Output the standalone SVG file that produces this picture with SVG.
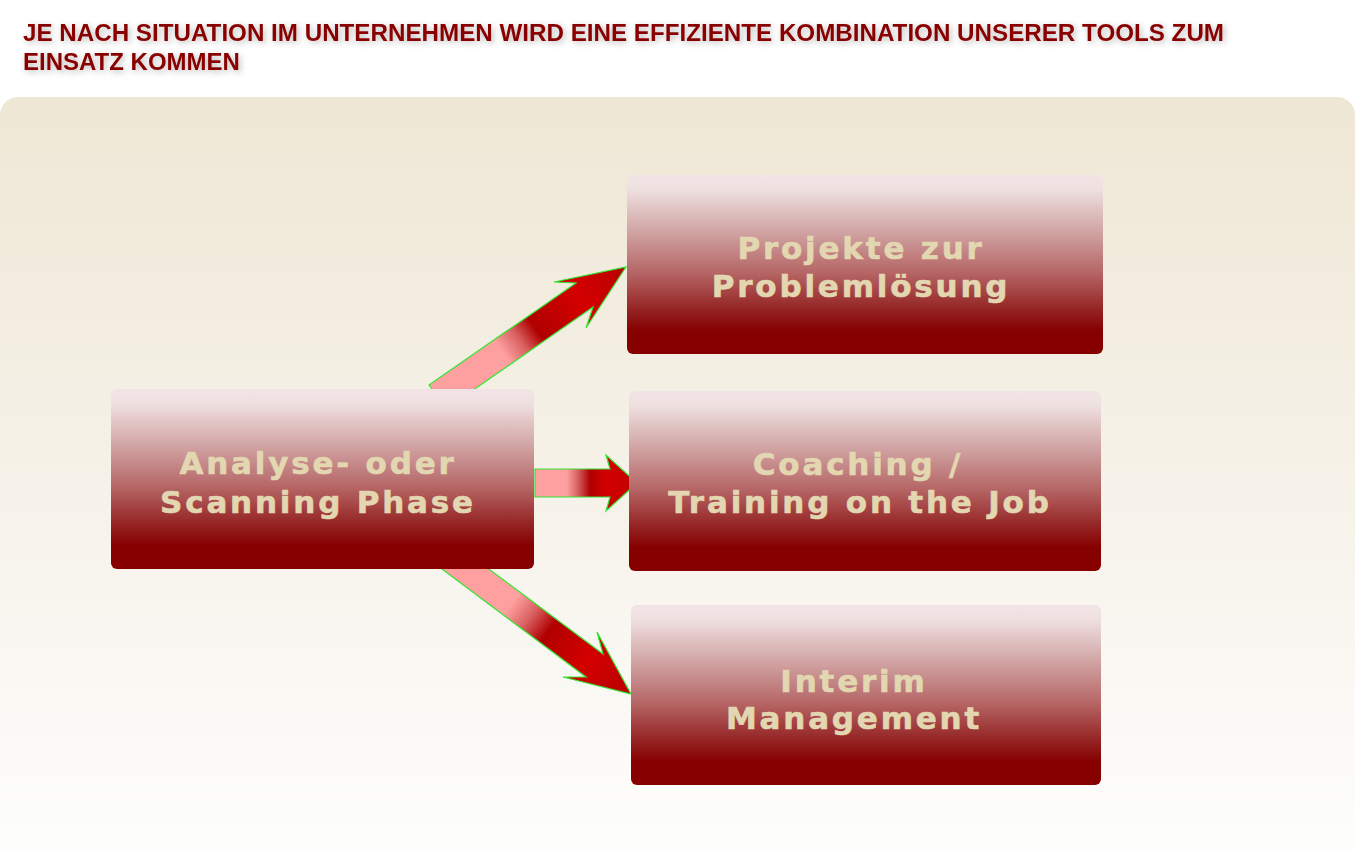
<svg xmlns="http://www.w3.org/2000/svg" width="1355" height="852" viewBox="0 0 1355 852">
  <style>
    .title { font-family: "Liberation Sans", Arial, sans-serif; font-weight: bold; font-size: 24px; fill: #880000; }
    .label { font-family: "DejaVu Sans", Verdana, sans-serif; font-weight: bold; font-size: 31px; fill: #e3d7b1; stroke: #e3d7b1; stroke-width: 0.6; letter-spacing: 2.8px; text-anchor: middle; }
    .box { fill: url(#boxGrad); }
    .arrow { stroke: #33e633; stroke-width: 1.2; stroke-linejoin: miter; }
  </style>
  <defs>
    <linearGradient id="panelGrad" x1="0" y1="0" x2="0" y2="1">
      <stop offset="0" stop-color="#efe7d5"/>
      <stop offset="0.5" stop-color="#f6f2e9"/>
      <stop offset="1" stop-color="#fefefd"/>
    </linearGradient>
    <linearGradient id="boxGrad" x1="0" y1="0" x2="0" y2="1">
      <stop offset="0" stop-color="#f2e4e6"/>
      <stop offset="0.08" stop-color="#efe0e0"/>
      <stop offset="0.3" stop-color="#d3a8a8"/>
      <stop offset="0.55" stop-color="#b56464"/>
      <stop offset="0.75" stop-color="#952424"/>
      <stop offset="0.87" stop-color="#860000"/>
      <stop offset="1" stop-color="#860000"/>
    </linearGradient>
    <linearGradient id="upGrad" gradientUnits="userSpaceOnUse" x1="450" y1="390" x2="626" y2="267">
      <stop offset="0" stop-color="#ffa0a0"/>
      <stop offset="0.3" stop-color="#ffa0a0"/>
      <stop offset="0.4" stop-color="#d86060"/>
      <stop offset="0.49" stop-color="#b00000"/>
      <stop offset="0.74" stop-color="#d40000"/>
      <stop offset="1" stop-color="#b80000"/>
    </linearGradient>
    <linearGradient id="midGrad" gradientUnits="userSpaceOnUse" x1="535" y1="0" x2="637" y2="0">
      <stop offset="0" stop-color="#ffa0a0"/>
      <stop offset="0.31" stop-color="#ffa0a0"/>
      <stop offset="0.42" stop-color="#d86060"/>
      <stop offset="0.54" stop-color="#b00000"/>
      <stop offset="0.7" stop-color="#d40000"/>
      <stop offset="1" stop-color="#c00000"/>
    </linearGradient>
    <linearGradient id="downGrad" gradientUnits="userSpaceOnUse" x1="465" y1="569" x2="631" y2="694">
      <stop offset="0" stop-color="#ffa0a0"/>
      <stop offset="0.28" stop-color="#ffa0a0"/>
      <stop offset="0.39" stop-color="#d86060"/>
      <stop offset="0.5" stop-color="#b00000"/>
      <stop offset="0.73" stop-color="#d40000"/>
      <stop offset="1" stop-color="#b80000"/>
    </linearGradient>
    <filter id="shadow" x="-5%" y="-50%" width="110%" height="200%">
      <feDropShadow dx="2" dy="2" stdDeviation="3" flood-color="#000" flood-opacity="0.28"/>
    </filter>
  </defs>

  <rect x="0" y="0" width="1355" height="852" fill="#ffffff"/>
  <rect id="panel" x="0" y="97" width="1355" height="772" rx="18" ry="18" fill="url(#panelGrad)"/>

  <g id="title" filter="url(#shadow)">
    <text class="title" x="23" y="41" textLength="1201" lengthAdjust="spacingAndGlyphs">JE NACH SITUATION IM UNTERNEHMEN WIRD EINE EFFIZIENTE KOMBINATION  UNSERER TOOLS ZUM</text>
    <text class="title" x="23" y="70">EINSATZ KOMMEN</text>
  </g>

  <g id="connectors">
    <polygon class="arrow" fill="url(#upGrad)" points="429,385 576,283 554,282 626,267 586,328 593,307 446,409"/>
    <polygon class="arrow" fill="url(#midGrad)" points="535,469 610,469 606,455 637,483 606,511 610,497 535,497"/>
    <polygon class="arrow" fill="url(#downGrad)" points="426,557 586,677 563,677 631,694 597,632 603,654 443,535"/>
  </g>

  <g id="node-analyse">
    <rect class="box" x="111" y="389" width="423" height="180" rx="6" ry="6"/>
    <text class="label" x="318" y="474">Analyse- oder</text>
    <text class="label" x="318" y="513">Scanning Phase</text>
  </g>

  <g id="node-projekte">
    <rect class="box" x="627" y="175" width="476" height="179" rx="6" ry="6"/>
    <text class="label" x="861" y="259">Projekte zur</text>
    <text class="label" x="861" y="297">Problemlösung</text>
  </g>

  <g id="node-coaching">
    <rect class="box" x="629" y="391" width="472" height="180" rx="6" ry="6"/>
    <text class="label" x="858" y="475">Coaching /</text>
    <text class="label" x="860" y="513">Training on the Job</text>
  </g>

  <g id="node-interim">
    <rect class="box" x="631" y="605" width="470" height="180" rx="6" ry="6"/>
    <text class="label" x="854" y="692">Interim</text>
    <text class="label" x="854" y="729">Management</text>
  </g>
</svg>
